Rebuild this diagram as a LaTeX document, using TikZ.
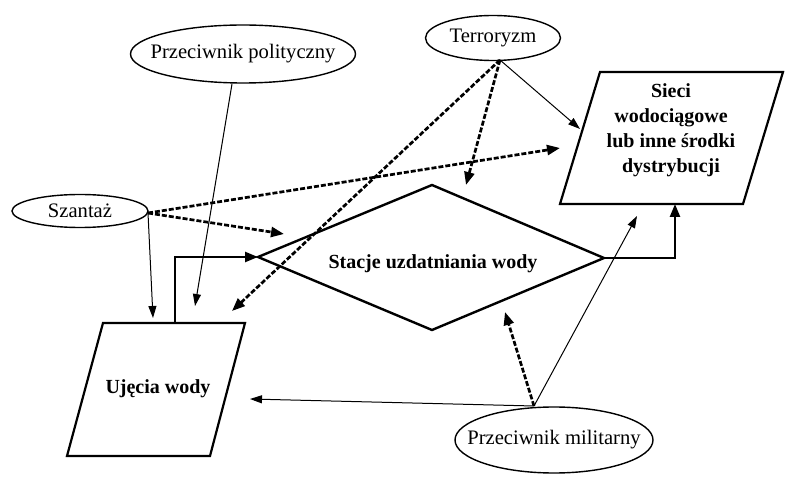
\documentclass[tikz,border=0pt]{standalone}
\usepackage{fontspec}
\setmainfont{Liberation Serif}
\usetikzlibrary{arrows.meta,shapes.geometric}
\tikzset{
  boldtxt/.style={font=\fontsize{20}{25}\selectfont\bfseries, inner sep=0pt, align=center},
  oval/.style={draw, ellipse, line width=1.4pt, inner sep=0pt, font=\fontsize{20.6}{25}\selectfont},
  shapeline/.style={line width=2.2pt, line join=miter},
  thinarrow/.style={line width=1pt, -{Triangle[length=12pt,width=8pt]}},
  dasharrow/.style={line width=2.7pt, dash pattern=on 5pt off 2pt, -{Triangle[length=13pt,width=10pt]}},
  thickarrow/.style={line width=2.4pt, -{Triangle[length=13pt,width=10pt]}}
}
\begin{document}
\begin{tikzpicture}[x=1pt,y=-1pt]
\useasboundingbox[fill=white] (0,0) rectangle (785,478);

% ellipses
\node[oval, minimum width=225pt, minimum height=58pt] (polit) at (243,54) {\makebox[0pt]{Przeciwnik polityczny}};
\node[oval, minimum width=135pt, minimum height=45pt] (terr) at (493,38) {\makebox[0pt]{Terroryzm}};
\node[oval, minimum width=136pt, minimum height=33pt] (szant) at (80,211) {\makebox[0pt]{Szantaż}};
\node[oval, minimum width=198pt, minimum height=66pt] (milit) at (554,440) {\makebox[0pt]{Przeciwnik militarny}};

% Sieci parallelogram
\coordinate (s1) at (600,72);
\coordinate (s2) at (783,72);
\coordinate (s3) at (743,204);
\coordinate (s4) at (560,204);
\draw[shapeline] (s1) -- (s2) -- (s3) -- (s4) -- cycle;
\node[boldtxt] (sieci) at (671,130) {Sieci\\wodociągowe\\lub inne środki\\dystrybucji};

% Ujecia parallelogram
\coordinate (u1) at (103,323);
\coordinate (u2) at (245,323);
\coordinate (u3) at (210,456);
\coordinate (u4) at (67,456);
\draw[shapeline] (u1) -- (u2) -- (u3) -- (u4) -- cycle;
\node[boldtxt] (ujecia) at (158,389) {Ujęcia wody};

% diamond
\coordinate (dL) at (258,257);
\coordinate (dT) at (432,185);
\coordinate (dR) at (604,258);
\coordinate (dB) at (432,330);
\draw[line width=2.4pt, line join=miter] (dL) -- (dT) -- (dR) -- (dB) -- cycle;
\node[boldtxt] (stacje) at (433,264) {Stacje uzdatniania wody};

% start points
\coordinate (szS) at (148,213);
\coordinate (teS) at (500,60);
\coordinate (miS) at (534,406);
\coordinate (poS) at (232,84);
\coordinate (ujS) at (175,323);

% end points
\coordinate (e1) at (560,148);
\coordinate (e2) at (284,234);
\coordinate (e3) at (153,318);
\coordinate (e4) at (195,306);
\coordinate (e5) at (580,129);
\coordinate (e6) at (466,185);
\coordinate (e7) at (232,311);
\coordinate (e8) at (250,399);
\coordinate (e9) at (505,312);
\coordinate (e10) at (637,216);
\coordinate (e11) at (675,204);

% connectors
\draw[dasharrow] (szS) -- (e1);
\draw[dasharrow] (szS) -- (e2);
\draw[thinarrow] (szS) -- (e3);
\draw[thinarrow] (poS) -- (e4);
\draw[thinarrow] (teS) -- (e5);
\draw[dasharrow] (teS) -- (e6);
\draw[dasharrow] (teS) -- (e7);
\draw[thickarrow] (ujS) |- (dL);
\draw[thickarrow] (dR) -| (e11);
\draw[thinarrow] (miS) -- (e8);
\draw[dasharrow] (miS) -- (e9);
\draw[thinarrow] (miS) -- (e10);
\end{tikzpicture}
\end{document}
